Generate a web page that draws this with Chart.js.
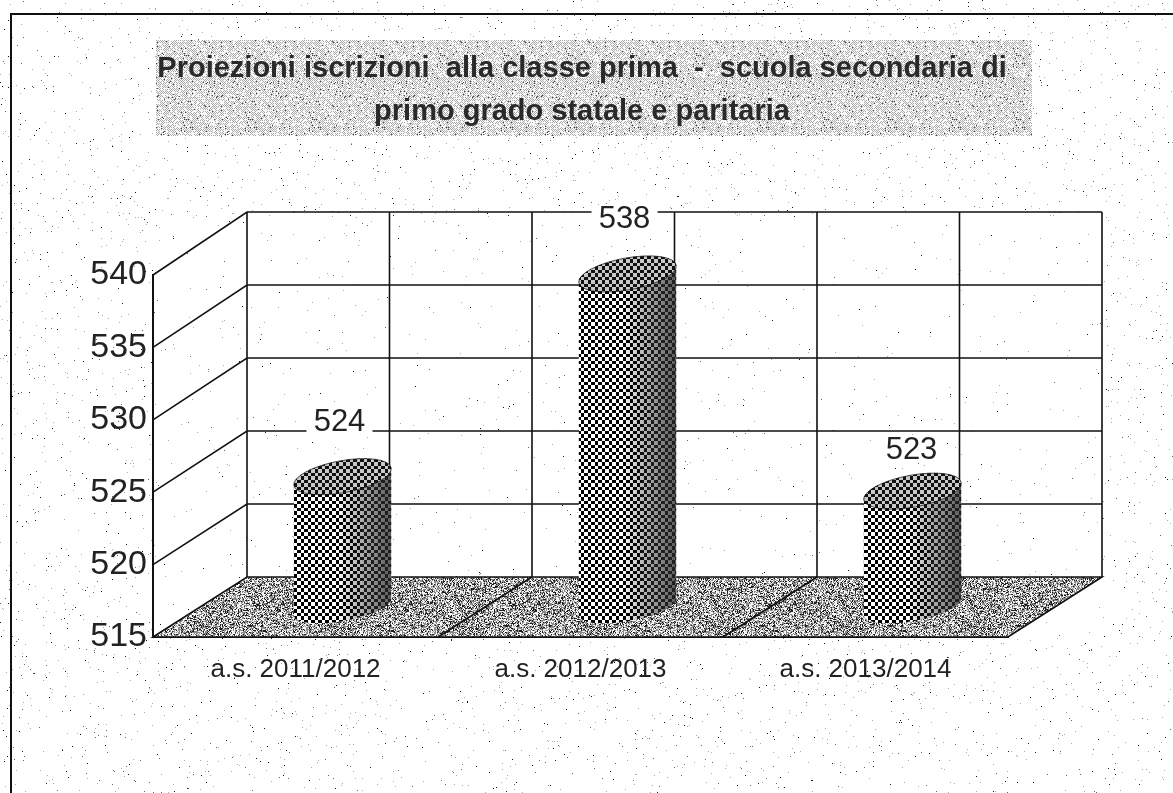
<!DOCTYPE html>
<html><head><meta charset="utf-8">
<style>html,body{margin:0;padding:0;background:#fff}canvas{display:block}</style>
<script src="https://cdn.jsdelivr.net/npm/chart.js@4"></script>
</head><body><canvas id="c" width="1173" height="793" style="width:1173px;height:793px"></canvas>
<script>
const categories = ['a.s. 2011/2012', 'a.s. 2012/2013', 'a.s. 2013/2014'];
const iscrizioni = [524, 538, 523];
const yMin = 515, yMax = 540, yStep = 5;
const titleLines = ['Proiezioni iscrizioni  alla classe prima  -  scuola secondaria di', 'primo grado statale e paritaria'];

const DX = 94, DY = -60;           // depth of the 3D box
const BACK = 365 / 362;            // back wall is a touch taller (perspective)
const HALF = [DX / 2, DY / 2];
const FONT = '"Liberation Sans", Arial, sans-serif';

function rng(seed) { let s = seed; return () => (s = (s * 1664525 + 1013904223) >>> 0) / 4294967296; }
function tile(w, h, fn) {
  const c = document.createElement('canvas'); c.width = w; c.height = h;
  const x = c.getContext('2d'); const img = x.createImageData(w, h);
  for (let j = 0; j < h; j++) for (let i = 0; i < w; i++) {
    const v = fn(i, j), k = (j * w + i) * 4;
    img.data[k] = img.data[k + 1] = img.data[k + 2] = v; img.data[k + 3] = 255;
  }
  x.putImageData(img, 0, 0); return c;
}
const r1 = rng(7), r2 = rng(11);
const checkerTile = tile(7, 7, (i, j) => ((i < 3 || i > 6) === (j < 4)) ? 0 : 255);
const floorTile = tile(128, 128, () => { const t = r1(); return t < 0.22 ? 30 : t < 0.62 ? 140 : 245; });
const boxTile = tile(64, 64, (i, j) => { const t = r2(); return (i + j) % 2 === 0 ? (t < 0.72 ? 170 : 250) : (t < 0.05 ? 70 : 250); });

const scene = {
  id: 'scene',
  beforeDraw(chart) {
    const { ctx, width, height } = chart;
    const a = chart.chartArea, R = rng(99);
    ctx.save();
    ctx.fillStyle = '#fff'; ctx.fillRect(0, 0, width, height);
    const backR = a.right + DX;
    for (let n = 0; n < 7000; n++) {
      const x = Math.floor(R() * width), y = Math.floor(R() * height), t = R();
      const inside = x > a.left && x < backR && y > a.top + DY && y < a.bottom;
      if (inside && t > 0.3) continue;
      ctx.fillStyle = R() < 0.2 ? '#111' : R() < 0.3 ? '#666' : '#aaa';
      ctx.fillRect(x, y, 1, 1);
    }
    ctx.fillStyle = ctx.createPattern(boxTile, 'repeat');
    ctx.fillRect(156, 40, 876, 96);
    ctx.strokeStyle = '#111'; ctx.lineWidth = 2;
    ctx.beginPath(); ctx.moveTo(11, 793); ctx.lineTo(11, 14); ctx.lineTo(1173, 14); ctx.stroke();
    ctx.restore();
  },
  beforeDatasetsDraw(chart) {
    const { ctx, scales: { y } } = chart, a = chart.chartArea;
    const yb = y.getPixelForValue(yMin);
    const backY = p => yb + DY + (p - yb) * BACK;
    ctx.save();
    // floor
    ctx.fillStyle = ctx.createPattern(floorTile, 'repeat');
    ctx.beginPath();
    ctx.moveTo(a.left, yb); ctx.lineTo(a.right, yb);
    ctx.lineTo(a.right + DX, yb + DY); ctx.lineTo(a.left + DX, yb + DY); ctx.closePath(); ctx.fill();
    ctx.strokeStyle = '#111'; ctx.lineWidth = 1.6;
    ctx.stroke();
    // grid on side wall and back wall
    ctx.beginPath();
    for (let v = yMin + yStep; v <= yMax; v += yStep) {
      const p = y.getPixelForValue(v);
      ctx.moveTo(a.left, p); ctx.lineTo(a.left + DX, backY(p)); ctx.lineTo(a.right + DX, backY(p));
    }
    // back wall verticals: category edges and centres
    const top = backY(y.getPixelForValue(yMax)), bottom = yb + DY;
    const w = (a.right - a.left) / categories.length;
    for (let i = 0; i <= categories.length * 2; i++) {
      const px = a.left + DX + i * w / 2;
      ctx.moveTo(px, top); ctx.lineTo(px, bottom);
    }
    // floor separators between categories
    for (let i = 1; i < categories.length; i++) {
      const px = a.left + i * w;
      ctx.moveTo(px, yb); ctx.lineTo(px + DX, bottom);
    }
    ctx.stroke();
    ctx.restore();
  },
  beforeDatasetDraw(chart, args) {
    const { ctx } = chart;
    const meta = args.meta;
    const rot = -0.18, ry = 14;
    meta.data.forEach(bar => {
      const rx = bar.width / 2 + 1, cx = bar.x + HALF[0];
      const yt = bar.y + HALF[1], yb = bar.base + HALF[1];
      const ox = rx * Math.cos(rot), oy = rx * Math.sin(rot);
      const body = new Path2D();
      body.moveTo(cx - ox, yt - oy); body.lineTo(cx - ox, yb - oy);
      body.ellipse(cx, yb, rx, ry, rot, Math.PI, 0, true);
      body.lineTo(cx + ox, yt + oy);
      body.ellipse(cx, yt, rx, ry, rot, 0, Math.PI, false);
      body.closePath();
      const chk = ctx.createPattern(checkerTile, 'repeat');
      ctx.save();
      ctx.fillStyle = chk; ctx.fill(body);
      ctx.clip(body);
      // shading toward the right side
      const g = ctx.createLinearGradient(cx - rx, 0, cx + rx, 0);
      g.addColorStop(0, 'rgba(0,0,0,0)'); g.addColorStop(0.45, 'rgba(0,0,0,0)');
      g.addColorStop(0.72, 'rgba(60,60,60,0.45)'); g.addColorStop(1, 'rgba(40,40,40,0.78)');
      ctx.fillStyle = g; ctx.fillRect(cx - rx - 2, yt - 30, 2 * rx + 4, yb - yt + 60);
      ctx.restore();
      ctx.save();
      ctx.beginPath(); ctx.ellipse(cx, yt, rx, ry + 2, rot, 0, Math.PI * 2);
      ctx.fillStyle = chk; ctx.fill();
      ctx.fillStyle = 'rgba(60,60,60,0.28)'; ctx.fill();
      ctx.strokeStyle = 'rgba(20,20,20,0.75)'; ctx.lineWidth = 1; ctx.stroke();
      ctx.restore();
    });
    return false;
  },
  afterDatasetsDraw(chart) {
    const { ctx } = chart, meta = chart.getDatasetMeta(0);
    ctx.save();
    ctx.textAlign = 'center'; ctx.textBaseline = 'middle';
    ctx.font = '31px ' + FONT;
    meta.data.forEach((bar, i) => {
      const above = i === 2 ? 41 : i === 1 ? 55 : 54;
      const cx = bar.x + HALF[0] - (i === 2 ? 1 : 3), cy = bar.y + HALF[1] - above;
      ctx.fillStyle = '#fff'; ctx.fillRect(cx - 33, cy - 12, 66, 24);
      ctx.fillStyle = '#222'; ctx.fillText(String(iscrizioni[i]), cx, cy);
    });
    ctx.restore();
  }
};

new Chart(document.getElementById('c'), {
  type: 'bar',
  data: { labels: categories, datasets: [{ label: 'Iscrizioni', data: iscrizioni, base: yMin, backgroundColor: '#555', barPercentage: 0.34, categoryPercentage: 1 }] },
  options: {
    responsive: false, animation: false, devicePixelRatio: 1,
    layout: { padding: { left: 0, right: 9, top: 0, bottom: 106 } },
    plugins: {
      legend: { display: false }, tooltip: { enabled: false },
      title: { display: true, text: titleLines, color: '#2a2a2a',
        font: { family: FONT, size: 29, weight: 'bold', lineHeight: 1.5 },
        padding: { top: 47, bottom: 141 } }
    },
    scales: {
      x: { grid: { display: false }, border: { display: true, color: '#111', width: 2 },
        ticks: { color: '#222', padding: 9, maxRotation: 0, font: { family: FONT, size: 26 } },
        afterFit(s) { s.height = 50; } },
      y: { min: yMin, max: yMax, grid: { display: false, tickLength: 5 }, border: { display: true, color: '#111', width: 2 },
        ticks: { stepSize: yStep, color: '#222', padding: 1, font: { family: FONT, size: 34 } },
        afterFit(s) { s.width = 153; } },
      spacer: { position: 'right', min: yMin, max: yMax, grid: { display: false }, border: { display: false },
        ticks: { display: false }, afterFit(s) { s.width = 156; } }
    }
  },
  plugins: [scene]
});
</script></body></html>
